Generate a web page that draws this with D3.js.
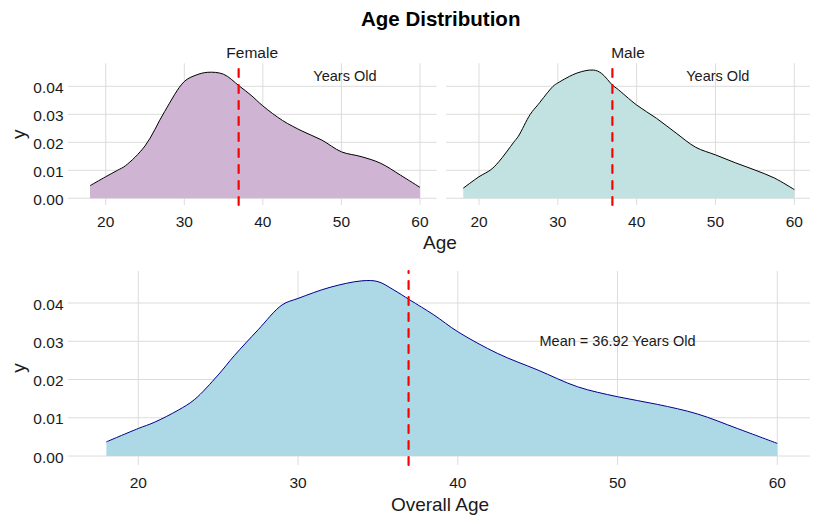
<!DOCTYPE html>
<html>
<head>
<meta charset="utf-8">
<script src="https://cdn.jsdelivr.net/npm/d3@7"></script>
<style>
  html, body { margin: 0; padding: 0; background: #fff; }
  svg { display: block; font-family: "Liberation Sans", Arial, sans-serif; }
</style>
</head>
<body>
<svg id="chart" width="820" height="524"></svg>
<script>
// ---------- data ----------
const femaleAge = [18, 20, 21.5, 22.5, 25, 27.5, 30, 31.5, 33, 35, 37, 38.5, 40, 42.5, 45, 47.5, 50, 52.5, 55, 57.5, 60];
const femaleDen = [0.0045, 0.0077, 0.0100, 0.0116, 0.0187, 0.0310, 0.0417, 0.0440, 0.0450, 0.0443, 0.0401, 0.0368, 0.0330, 0.0278, 0.0240, 0.0208, 0.0166, 0.0149, 0.0125, 0.0083, 0.0039];

const maleAge = [18, 20, 21.5, 22.5, 24.4, 25, 26.5, 27.5, 29.4, 30, 32.5, 34.5, 35.5, 37, 37.5, 40, 42.5, 45, 47.5, 50, 52.5, 55, 57.5, 60];
const maleDen = [0.0036, 0.0077, 0.0102, 0.0130, 0.0200, 0.0222, 0.0300, 0.0335, 0.0400, 0.0412, 0.0448, 0.0458, 0.0447, 0.0402, 0.0392, 0.0333, 0.0286, 0.0233, 0.0182, 0.0155, 0.0127, 0.0101, 0.0072, 0.0031];

const overallAge = [18, 20, 21, 22.5, 23.5, 25, 26, 27.5, 29, 30, 32, 34, 35, 36, 37, 38.5, 40, 42.5, 45, 47.5, 50, 52.5, 55, 57.5, 60];
const overallDen = [0.0037, 0.0072, 0.0088, 0.0120, 0.0147, 0.0212, 0.0262, 0.0330, 0.0395, 0.0412, 0.0441, 0.0458, 0.0456, 0.0434, 0.0408, 0.0369, 0.0325, 0.0268, 0.0225, 0.0181, 0.0155, 0.0135, 0.0110, 0.0072, 0.0033];

const meanAge = 36.92;
const xTicks = [20, 30, 40, 50, 60];
const yTicks = [0.00, 0.01, 0.02, 0.03, 0.04];
const facetLabels = ["Female", "Male"];
const facetNote = "Years Old";
const overallNote = "Mean = 36.92 Years Old";

// ---------- layout ----------
const svg = d3.select("#chart");
const gridColor = "#DCDCDC";
const textColor = "#1a1a1a";

const panels = [
  { name: "Female", x: d3.scaleLinear().domain([15.16, 62.13]).range([67.7, 436.7]),
    y: d3.scaleLinear().domain([-0.0024, 0.04821]).range([205, 63.3]),
    age: femaleAge, den: femaleDen, fill: "#D0B4D4", stroke: "#000", yLabels: true,
    note: facetNote, noteX: 50.45, noteY: 0.0435, strip: facetLabels[0] },
  { name: "Male", x: d3.scaleLinear().domain([15.81, 61.99]).range([446, 810]),
    y: d3.scaleLinear().domain([-0.0024, 0.04821]).range([205, 63.3]),
    age: maleAge, den: maleDen, fill: "#C2E1E1", stroke: "#000", yLabels: false,
    note: facetNote, noteX: 50.3, noteY: 0.0435, strip: facetLabels[1] },
  { name: "Overall", x: d3.scaleLinear().domain([15.58, 62.05]).range([67.7, 810]),
    y: d3.scaleLinear().domain([-0.00235, 0.04837]).range([465, 271]),
    age: overallAge, den: overallDen, fill: "#ADD8E6", stroke: "#00008B", yLabels: true,
    note: overallNote, noteX: 50, noteY: 0.03, strip: null }
];

panels.forEach(p => {
  const g = svg.append("g");
  const [x0, x1] = p.x.range();
  const [y0, y1] = p.y.range(); // y0 bottom, y1 top

  // grid
  g.selectAll(".hg").data(yTicks).enter().append("line")
    .attr("x1", x0).attr("x2", x1)
    .attr("y1", d => p.y(d)).attr("y2", d => p.y(d))
    .attr("stroke", gridColor).attr("stroke-width", 1);
  g.selectAll(".vg").data(xTicks).enter().append("line")
    .attr("x1", d => p.x(d)).attr("x2", d => p.x(d))
    .attr("y1", y1).attr("y2", y0)
    .attr("stroke", gridColor).attr("stroke-width", 1);

  const pts = p.age.map((a, i) => [a, p.den[i]]);
  const curve = d3.curveCatmullRom.alpha(0.5);
  const area = d3.area().x(d => p.x(d[0])).y0(p.y(0)).y1(d => p.y(d[1])).curve(curve);
  const line = d3.line().x(d => p.x(d[0])).y(d => p.y(d[1])).curve(curve);
  g.append("path").attr("d", area(pts)).attr("fill", p.fill);
  g.append("path").attr("d", line(pts)).attr("fill", "none").attr("stroke", p.stroke).attr("stroke-width", 1);

  // mean line
  g.append("line")
    .attr("x1", p.x(meanAge)).attr("x2", p.x(meanAge))
    .attr("y1", y0).attr("y2", y1)
    .attr("stroke", "#FF0000").attr("stroke-width", 2.2)
    .attr("stroke-dasharray", "8,8").attr("stroke-linecap", "round");

  // note text
  g.append("text").attr("x", p.x(p.noteX)).attr("y", p.y(p.noteY) + 5)
    .attr("text-anchor", "middle").attr("font-size", 14.5).attr("fill", textColor)
    .text(p.note);

  // x tick labels
  const xBase = p.name === "Overall" ? 488 : 226.5;
  g.selectAll(".xt").data(xTicks).enter().append("text")
    .attr("x", d => p.x(d)).attr("y", xBase)
    .attr("text-anchor", "middle").attr("font-size", 15.5).attr("fill", textColor)
    .text(d => d);

  // y tick labels
  if (p.yLabels) {
    g.selectAll(".yt").data(yTicks).enter().append("text")
      .attr("x", 63.5).attr("y", d => p.y(d) + 6.5)
      .attr("text-anchor", "end").attr("font-size", 15.5).attr("fill", textColor)
      .text(d => d3.format(".2f")(d));
    const cy = (y0 + y1) / 2;
    g.append("text").attr("transform", `translate(25,${cy}) rotate(-90)`)
      .attr("text-anchor", "middle").attr("font-size", 19).attr("fill", textColor)
      .text("y");
  }

  if (p.strip) {
    g.append("text").attr("x", (x0 + x1) / 2).attr("y", 58)
      .attr("text-anchor", "middle").attr("font-size", 15.5).attr("fill", textColor)
      .text(p.strip);
  }
});

// axis titles
svg.append("text").attr("x", 440).attr("y", 248.5).attr("text-anchor", "middle")
  .attr("font-size", 19).attr("fill", textColor).text("Age");
svg.append("text").attr("x", 440).attr("y", 510.5).attr("text-anchor", "middle")
  .attr("font-size", 19).attr("fill", textColor).text("Overall Age");

// title
svg.append("text").attr("x", 440.7).attr("y", 25.7).attr("text-anchor", "middle")
  .attr("font-size", 20.5).attr("font-weight", "bold").attr("fill", "#000")
  .text("Age Distribution");
</script>
</body>
</html>
